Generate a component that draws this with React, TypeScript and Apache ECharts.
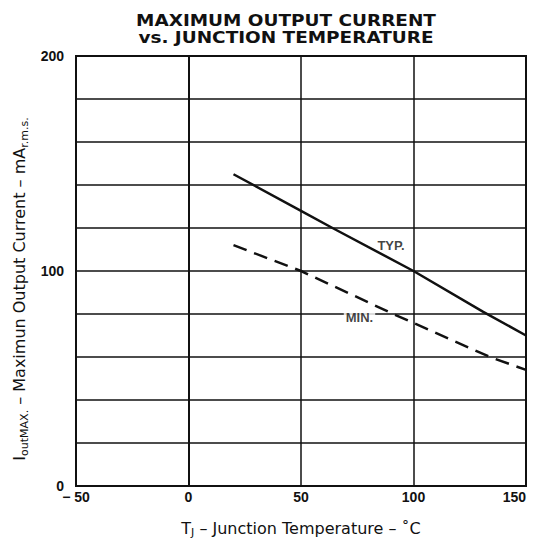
import React, { useEffect, useRef } from "react";
import * as echarts from "echarts";

const typX = [20, 50, 64, 100, 131, 150];
const typY = [145, 128, 120, 100, 81, 70];
const minX = [20, 50, 91, 134, 150];
const minY = [112, 100, 80, 60, 54];
const typLabelPos = [90, 112];
const minLabelPos = [76, 78.5];
const yLabeled = [0, 100, 200];
const titleLines = ["MAXIMUM OUTPUT CURRENT", "vs. JUNCTION TEMPERATURE"];

const FONT = "Liberation Sans";
const NFONT = "DejaVu Sans";

export default function App() {
  const ref = useRef<HTMLDivElement>(null);
  useEffect(() => {
    if (!ref.current) return;
    const chart = echarts.init(ref.current, null, { renderer: "svg" });
    const typData = typX.map((x, i) => [x, typY[i]]);
    const minData = minX.map((x, i) => [x, minY[i]]);
    chart.setOption({
      animation: false,
      backgroundColor: "#fff",
      graphic: titleLines.map((t, i) => ({
        type: "text",
        x: 286,
        y: 21 + i * 16.5,
        scaleX: 1.23,
        style: {
          text: t,
          align: "center",
          verticalAlign: "middle",
          fontFamily: NFONT,
          fontWeight: "bold",
          fontSize: 15,
          fill: "#111",
        },
      })),
      grid: {
        left: 76,
        right: 14,
        top: 56,
        bottom: 62,
        show: true,
        borderColor: "#111",
        borderWidth: 2,
      },
      xAxis: {
        type: "value",
        min: -50,
        max: 150,
        interval: 50,
        axisLine: { show: true, lineStyle: { color: "#111", width: 2 } },
        axisTick: { show: false },
        splitLine: { show: true, lineStyle: { color: "#111", width: 1.5 } },
        axisLabel: {
          color: "#111",
          fontFamily: FONT,
          fontWeight: "bold",
          fontSize: 14,
          margin: 4,
          alignMaxLabel: "right",
          formatter: (v: number) => (v < 0 ? "\u2212 " + Math.abs(v) : String(v)),
        },
        name: "{t|T}{s|J}{n| \u2013 Junction Temperature \u2013 \u02daC}",
        nameLocation: "middle",
        nameGap: 33,
        nameTextStyle: {
          color: "#111",
          rich: {
            t: { fontFamily: NFONT, fontSize: 16, color: "#111" },
            s: { fontFamily: NFONT, fontSize: 11, color: "#111", verticalAlign: "bottom", padding: [8, 0, 0, 0] },
            n: { fontFamily: NFONT, fontSize: 16, color: "#111" },
          },
        },
      },
      yAxis: {
        type: "value",
        min: 0,
        max: 200,
        interval: 20,
        axisLine: { show: true, lineStyle: { color: "#111", width: 2 } },
        axisTick: { show: false },
        splitLine: { show: true, lineStyle: { color: "#111", width: 1.5 } },
        axisLabel: {
          color: "#111",
          fontFamily: FONT,
          fontWeight: "bold",
          fontSize: 14,
          margin: 12,
          formatter: (v: number) => (yLabeled.includes(v) ? String(v) : ""),
        },
        name: "{t|I}{s|outMAX.}{n| \u2013 Maximun Output Current \u2013 mA}{s|r.m.s.}",
        nameLocation: "middle",
        nameGap: 46,
        nameTextStyle: {
          color: "#111",
          padding: [0, 36, 0, 0],
          rich: {
            t: { fontFamily: NFONT, fontSize: 16, color: "#111" },
            s: { fontFamily: NFONT, fontSize: 11, color: "#111", verticalAlign: "bottom", padding: [9, 0, 0, 0] },
            n: { fontFamily: NFONT, fontSize: 16, color: "#111" },
          },
        },
      },
      series: [
        {
          type: "line",
          data: typData,
          showSymbol: false,
          symbol: "none",
          lineStyle: { color: "#111", width: 2.5 },
        },
        {
          type: "line",
          data: minData,
          showSymbol: false,
          symbol: "none",
          lineStyle: { color: "#111", width: 2.5, type: [14, 8] },
        },
        {
          type: "scatter",
          symbolSize: 0,
          data: [typLabelPos],
          label: {
            show: true,
            position: "inside",
            formatter: "TYP.",
            color: "#111",
            fontFamily: FONT,
            fontWeight: "bold",
            fontSize: 13,
            backgroundColor: "#fff",
            padding: [1, 2],
          },
        },
        {
          type: "scatter",
          symbolSize: 0,
          data: [minLabelPos],
          label: {
            show: true,
            position: "inside",
            formatter: "MIN.",
            color: "#111",
            fontFamily: FONT,
            fontWeight: "bold",
            fontSize: 13,
            backgroundColor: "#fff",
            padding: [1, 2],
          },
        },
      ],
    });
    return () => chart.dispose();
  }, []);
  return <div ref={ref} style={{ width: 540, height: 548, margin: -8 }} />;
}
